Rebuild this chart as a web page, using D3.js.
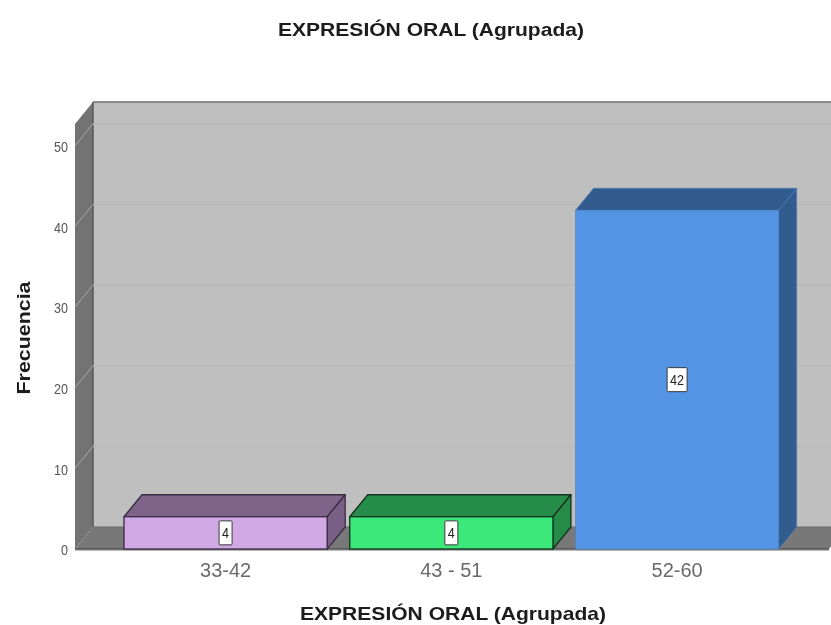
<!DOCTYPE html>
<html>
<head>
<meta charset="utf-8">
<script src="https://cdn.jsdelivr.net/npm/d3@7"></script>
<style>
body { margin: 0; background: #fff; }
text { font-family: "Liberation Sans", Arial, sans-serif; }
.y.axis .domain, .y.axis line, .x.axis .domain, .x.axis line { display: none; }
</style>
</head>
<body>
<div id="chart"></div>
<script>
var categories = ["33-42", "43 - 51", "52-60"];
var frequencies = [4, 4, 42];
var frontColors = ["#d0a8e4", "#3de87a", "#5294e4"];
var topColors = ["#7f6488", "#288c4a", "#315b8e"];
var sideColors = ["#7a5f85", "#268a48", "#315b8e"];
var edgeColors = ["#3a2c44", "#12331f", "#4a80c4"];
var yTicks = [0, 10, 20, 30, 40, 50];
var chartTitle = "EXPRESIÓN ORAL (Agrupada)";
var yTitle = "Frecuencia";

var width = 831, height = 625;
var plotLeft = 75, plotRight = 840, plotBottom = 549, plotTop = 124;
var dx = 18, dy = -22; // depth of the 3d box

var svg = d3.select("#chart").append("svg")
    .attr("width", width).attr("height", height)
    .attr("viewBox", "0 0 " + width + " " + height)
    .style("display", "block");

svg.append("defs").append("filter").attr("id", "soft")
    .append("feGaussianBlur").attr("stdDeviation", 0.7);

var g = svg.append("g").attr("filter", "url(#soft)");

var y = d3.scaleLinear().domain([0, 52.7]).range([plotBottom, plotTop]);
var x = d3.scaleBand().domain(categories).range([112.7, 790])
    .paddingInner(0.1).paddingOuter(0.05);

function poly(sel, pts, fill, stroke, sw) {
    return sel.append("polygon")
        .attr("points", pts.map(function(p) { return p.join(","); }).join(" "))
        .attr("fill", fill)
        .attr("stroke", stroke || "none")
        .attr("stroke-width", sw || 0)
        .attr("stroke-linejoin", "round");
}

// back wall, left wall and floor
poly(g, [[plotLeft + dx, plotTop + dy], [plotRight, plotTop + dy], [plotRight, plotBottom + dy], [plotLeft + dx, plotBottom + dy]], "#bfbfbf");
g.append("line").attr("x1", plotLeft + dx).attr("x2", plotRight).attr("y1", plotTop + dy).attr("y2", plotTop + dy)
    .attr("stroke", "#6e6e6e").attr("stroke-width", 1.5);
poly(g, [[plotLeft, plotBottom], [plotLeft, plotTop], [plotLeft + dx, plotTop + dy], [plotLeft + dx, plotBottom + dy]], "#737373");
g.append("line").attr("x1", plotLeft + dx).attr("x2", plotLeft + dx).attr("y1", plotTop + dy).attr("y2", plotBottom + dy)
    .attr("stroke", "#595959").attr("stroke-width", 1.5);
poly(g, [[plotLeft, plotBottom], [plotLeft + dx, plotBottom + dy], [829 + dx, plotBottom + dy], [829, plotBottom]], "#787878");
g.append("line").attr("x1", plotLeft + dx).attr("x2", plotRight).attr("y1", plotBottom + dy).attr("y2", plotBottom + dy)
    .attr("stroke", "#6a6a6a").attr("stroke-width", 1);
g.append("line").attr("x1", plotLeft).attr("x2", 829).attr("y1", plotBottom).attr("y2", plotBottom)
    .attr("stroke", "#4d4d4d").attr("stroke-width", 1.5);
g.append("line").attr("x1", plotLeft).attr("x2", 829).attr("y1", plotBottom + 1.5).attr("y2", plotBottom + 1.5)
    .attr("stroke", "#b8b8b8").attr("stroke-width", 1);

// gridlines, running back along the wall then across
yTicks.filter(function(t) { return t > 0; }).forEach(function(t) {
    g.append("polyline")
        .attr("points", [[plotLeft, y(t)], [plotLeft + dx, y(t) + dy]].join(" "))
        .attr("fill", "none").attr("stroke", "#a8a8a8").attr("stroke-width", 1);
    g.append("line").attr("x1", plotLeft + dx).attr("x2", plotRight)
        .attr("y1", y(t) + dy).attr("y2", y(t) + dy)
        .attr("stroke", "#b9b9b9").attr("stroke-width", 1.5);
});
// top edge of the front plane is a gridline too
g.append("line").attr("x1", plotLeft + dx).attr("x2", plotRight).attr("y1", plotTop).attr("y2", plotTop)
    .attr("stroke", "#b9b9b9").attr("stroke-width", 1.5);

// bars
categories.forEach(function(c, i) {
    var x0 = x(c), x1 = x(c) + x.bandwidth(), yv = y(frequencies[i]);
    var sw = i < 2 ? 1.3 : 0.6;
    poly(g, [[x0, yv], [x0 + dx, yv + dy], [x1 + dx, yv + dy], [x1, yv]], topColors[i], edgeColors[i], sw);
    poly(g, [[x1, yv], [x1 + dx, yv + dy], [x1 + dx, plotBottom + dy], [x1, plotBottom]], sideColors[i], edgeColors[i], sw);
    g.append("rect").attr("x", x0).attr("y", yv).attr("width", x.bandwidth()).attr("height", plotBottom - yv)
        .attr("fill", frontColors[i]).attr("stroke", edgeColors[i]).attr("stroke-width", sw);

    // value label box
    var cx = x0 + x.bandwidth() / 2, cy = (yv + plotBottom) / 2;
    var bw = i < 2 ? 13 : 20;
    g.append("rect").attr("x", cx - bw / 2).attr("y", cy - 12).attr("width", bw).attr("height", 24)
        .attr("rx", 1).attr("fill", "#fff").attr("stroke", "#3a3a3a").attr("stroke-width", 1);
    g.append("text").attr("x", cx).attr("y", cy + 5).attr("text-anchor", "middle")
        .attr("font-size", 14).attr("fill", "#222")
        .attr("textLength", i < 2 ? 7 : 14).attr("lengthAdjust", "spacingAndGlyphs")
        .text(frequencies[i]);
});

// axes
var yAxis = d3.axisLeft(y).tickValues(yTicks).tickSize(0).tickPadding(7);
g.append("g").attr("class", "y axis").attr("transform", "translate(" + plotLeft + ",0)").call(yAxis)
    .selectAll("text").attr("font-size", 14).attr("fill", "#555").attr("dy", "0.42em")
    .attr("textLength", function(d) { return d === 0 ? 7 : 14; })
    .attr("lengthAdjust", "spacingAndGlyphs");
var xAxis = d3.axisBottom(x).tickSize(0).tickPadding(14);
g.append("g").attr("class", "x axis").attr("transform", "translate(0," + plotBottom + ")").call(xAxis)
    .selectAll("text").attr("font-size", 20).attr("fill", "#6a6a6a");
g.selectAll(".axis text").style("font-family", '"Liberation Sans", Arial, sans-serif');

// titles
g.append("text").attr("x", 431).attr("y", 36).attr("text-anchor", "middle")
    .attr("font-size", 19).attr("font-weight", "bold").attr("fill", "#1a1a1a")
    .attr("textLength", 306).attr("lengthAdjust", "spacingAndGlyphs").text(chartTitle);
g.append("text").attr("x", 453).attr("y", 620).attr("text-anchor", "middle")
    .attr("font-size", 19).attr("font-weight", "bold").attr("fill", "#1a1a1a")
    .attr("textLength", 306).attr("lengthAdjust", "spacingAndGlyphs").text(chartTitle);
g.append("text").attr("transform", "translate(30,338)rotate(-90)").attr("text-anchor", "middle")
    .attr("font-size", 18).attr("font-weight", "bold").attr("fill", "#1a1a1a")
    .attr("textLength", 113).attr("lengthAdjust", "spacingAndGlyphs").text(yTitle);
</script>
</body>
</html>
